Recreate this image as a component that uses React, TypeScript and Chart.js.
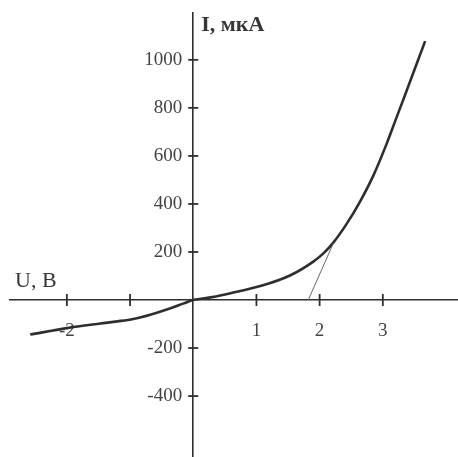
import React, { useEffect, useRef } from 'react';
import { Chart, registerables } from 'chart.js';

Chart.register(...registerables);

// I–V curve (U in volts, I in microamps)
const uValues = [-2.58, -2.0, -1.47, -1.2, -0.95, -0.68, -0.36, -0.15, 0, 0.3, 0.59, 1.09, 1.53, 1.9, 2.06, 2.22, 2.43, 2.64, 2.85, 3.06, 3.2, 3.34, 3.67];
const iValues = [-144, -117, -98, -89, -79, -61, -34, -14, 0, 12, 28, 60, 102, 160, 194, 240, 318, 410, 518, 650, 748, 845, 1078];

// tangent line
const tangentU = [1.82, 2.22];
const tangentI = [0, 238];

const uTicks = [-2, -1, 1, 2, 3];
const uTickLabels = ['-2', '', '1', '2', '3'];
const iTicks = [-400, -200, 200, 400, 600, 800, 1000];
const iTickLabels = ['-400', '-200', '200', '400', '600', '800', '1000'];

const uRange = [-2.9, 4.19];
const iRange = [-652, 1195];
const iLabelColumnU = -0.175;

const uTitle = 'U, В';
const iTitle = 'I, мкА';

const FONT = '"Liberation Serif", "Times New Roman", serif';
const INK = '#2e2e2e';

const axesDecor = {
  id: 'axesDecor',
  beforeDatasetsDraw(chart: any) {
    const { ctx, scales, chartArea } = chart;
    const x = scales.x;
    const y = scales.y;
    const x0 = x.getPixelForValue(0);
    const y0 = y.getPixelForValue(0);
    ctx.save();
    ctx.strokeStyle = INK;
    ctx.lineWidth = 1.8;
    uTicks.forEach((v) => {
      const px = x.getPixelForValue(v);
      ctx.beginPath();
      ctx.moveTo(px, y0 - 6);
      ctx.lineTo(px, y0 + 6);
      ctx.stroke();
    });
    iTicks.forEach((v) => {
      const py = y.getPixelForValue(v);
      ctx.beginPath();
      ctx.moveTo(x0 - 5, py);
      ctx.lineTo(x0 + 5, py);
      ctx.stroke();
    });
    ctx.fillStyle = '#363636';
    ctx.textAlign = 'left';
    ctx.textBaseline = 'alphabetic';
    ctx.font = 'bold 22px ' + FONT;
    ctx.fillText(iTitle, x0 + 8, chartArea.top + 18);
    ctx.font = '22px ' + FONT;
    ctx.fillText(uTitle, chartArea.left + 5, y0 - 13);
    ctx.restore();
  },
};

export default function App() {
  const ref = useRef<HTMLCanvasElement | null>(null);

  useEffect(() => {
    if (!ref.current) return;
    const curve = uValues.map((u, i) => ({ x: u, y: iValues[i] }));
    const tangent = tangentU.map((u, i) => ({ x: u, y: tangentI[i] }));
    const fixedTicks = (vals: number[]) => (s: any) => {
      s.ticks = vals.map((v) => ({ value: v }));
    };
    const chart = new Chart(ref.current, {
      type: 'scatter',
      data: {
        datasets: [
          {
            data: tangent,
            showLine: true,
            borderColor: '#666',
            borderWidth: 1,
            pointRadius: 0,
          },
          {
            data: curve,
            showLine: true,
            borderColor: INK,
            borderWidth: 2.6,
            pointRadius: 0,
            cubicInterpolationMode: 'monotone',
          },
        ],
      },
      options: {
        animation: false,
        responsive: false,
        layout: { padding: { left: 10, top: 13, right: 0, bottom: 0 } },
        plugins: { legend: { display: false }, tooltip: { enabled: false }, title: { display: false } },
        scales: {
          x: {
            type: 'linear',
            min: uRange[0],
            max: uRange[1],
            position: { y: 0 } as any,
            grid: { display: true, drawOnChartArea: false, drawTicks: false },
            border: { display: true, color: INK, width: 1.6 },
            afterBuildTicks: fixedTicks(uTicks),
            ticks: {
              padding: 20,
              color: '#444',
              font: { family: FONT, size: 19 },
              maxRotation: 0,
              autoSkip: false,
              callback: (_v: any, idx: number) => uTickLabels[idx],
            },
          },
          y: {
            type: 'linear',
            min: iRange[0],
            max: iRange[1],
            position: { x: 0 } as any,
            grid: { display: true, drawOnChartArea: false, drawTicks: false },
            border: { display: true, color: INK, width: 1.6 },
            afterBuildTicks: fixedTicks(iTicks),
            ticks: { display: false },
          },
          yl: {
            type: 'linear',
            min: iRange[0],
            max: iRange[1],
            position: { x: iLabelColumnU } as any,
            grid: { display: false, drawTicks: false },
            border: { display: false },
            afterBuildTicks: fixedTicks(iTicks),
            ticks: {
              padding: 0,
              color: '#444',
              font: { family: FONT, size: 19 },
              autoSkip: false,
              callback: (_v: any, idx: number) => iTickLabels[idx],
            },
          },
        },
      },
      plugins: [axesDecor],
    } as any);
    return () => chart.destroy();
  }, []);

  return (
    <div style={{ position: 'absolute', left: 0, top: 0, width: 458, height: 457, overflow: 'hidden', background: '#fff' }}>
      <canvas ref={ref} width={458} height={468} style={{ display: 'block' }} />
    </div>
  );
}
